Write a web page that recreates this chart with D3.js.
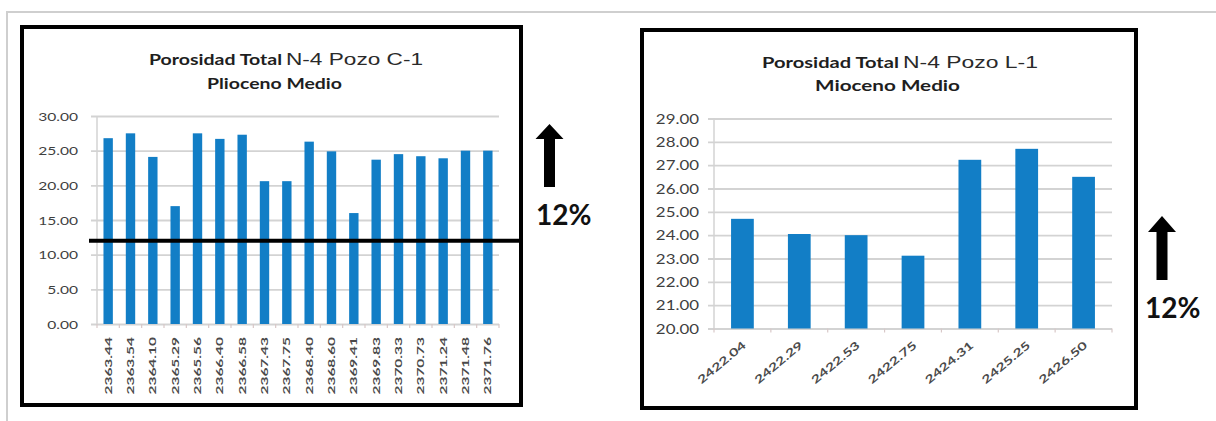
<!DOCTYPE html>
<html>
<head>
<meta charset="utf-8">
<script src="https://cdn.jsdelivr.net/npm/d3@7"></script>
<style>
  html, body { margin: 0; padding: 0; background: #fff; }
  svg { display: block; }
</style>
</head>
<body>
<svg id="chart" width="1216" height="421"></svg>
<script>
// Pozo C-1, Plioceno Medio: porosidad total (%) por profundidad
const depthsC1 = ["2363.44", "2363.54", "2364.10", "2365.29", "2365.56", "2366.40",
  "2366.58", "2367.43", "2367.75", "2368.40", "2368.60", "2369.41",
  "2369.83", "2370.33", "2370.73", "2371.24", "2371.48", "2371.76"];
const porosityC1 = [26.8, 27.5, 24.1, 17.0, 27.5, 26.7,
  27.3, 20.6, 20.6, 26.3, 24.9, 16.0,
  23.7, 24.5, 24.2, 23.9, 25.0, 25.0];
const ticksC1 = [0, 5, 10, 15, 20, 25, 30];

// Pozo L-1, Mioceno Medio
const depthsL1 = ["2422.04", "2422.29", "2422.53", "2422.75", "2424.31", "2425.25", "2426.50"];
const porosityL1 = [24.7, 24.05, 24.0, 23.12, 27.23, 27.7, 26.5];
const ticksL1 = [20, 21, 22, 23, 24, 25, 26, 27, 28, 29];

// corte de porosidad
const cutoff = 12;
const cutoffLabel = "12%";

const svg = d3.select("#chart");
const BAR = "#127ec6";
const GRID = "#d3d3d3";
const LABEL = "#3f3f3f";

// page border (top and left rule)
svg.append("path")
  .attr("d", "M7,421V12H1216")
  .attr("fill", "none")
  .attr("stroke", "#cfcfcf")
  .attr("stroke-width", 2);

function addText(g, x, y, str, o) {
  return g.append("text")
    .attr("x", x).attr("y", y)
    .attr("font-family", o.family)
    .attr("font-weight", o.weight)
    .attr("font-size", o.size)
    .attr("fill", o.fill || "#1e1e1e")
    .attr("textLength", o.length)
    .attr("lengthAdjust", "spacingAndGlyphs")
    .text(str);
}

function panel(o) {
  const g = svg.append("g");

  // outer black frame
  g.append("rect")
    .attr("x", o.frame[0]).attr("y", o.frame[1])
    .attr("width", o.frame[2]).attr("height", o.frame[3])
    .attr("fill", "#fff").attr("stroke", "#000").attr("stroke-width", 4);

  const x = d3.scaleBand().domain(o.cats).range([o.x0, o.x1])
    .paddingInner(o.pad).paddingOuter(o.pad / 2);
  const y = d3.scaleLinear().domain([o.ticks[0], o.ticks[o.ticks.length - 1]])
    .range([o.yb, o.yt]);

  // value axis with gridlines
  const yAxis = g.append("g")
    .attr("transform", `translate(${o.x0 - 6},0)`)
    .call(d3.axisLeft(y).tickValues(o.ticks).tickFormat(d3.format(".2f"))
      .tickSizeInner(-(o.x1 - o.x0 + 6)).tickSizeOuter(0));
  yAxis.select(".domain").remove();
  yAxis.selectAll(".tick line").attr("stroke", GRID).attr("stroke-width", 1.8);
  yAxis.selectAll(".tick text")
    .attr("x", 0).attr("dy", "0.35em")
    .attr("transform", `translate(${-o.yPad},0) scale(${o.yStretch},1)`)
    .attr("font-family", "Lato").attr("font-size", o.ySize)
    .attr("fill", LABEL).attr("text-anchor", "end");

  // vertical axis line
  g.append("line")
    .attr("x1", o.x0).attr("x2", o.x0).attr("y1", o.yt).attr("y2", o.yb)
    .attr("stroke", GRID).attr("stroke-width", 1.5);

  // category tick marks at band boundaries
  const step = x.step();
  g.append("g").selectAll("line")
    .data(d3.range(o.cats.length + 1))
    .join("line")
    .attr("x1", i => o.x0 + i * step).attr("x2", i => o.x0 + i * step)
    .attr("y1", o.yb).attr("y2", o.yb + 4)
    .attr("stroke", "#d8c8c8").attr("stroke-width", 1.2);

  // bars
  g.append("g").selectAll("rect")
    .data(o.values)
    .join("rect")
    .attr("x", (d, i) => x(o.cats[i]))
    .attr("y", d => y(d))
    .attr("width", x.bandwidth())
    .attr("height", d => y(o.ticks[0]) - y(d))
    .attr("fill", BAR);

  // category labels
  const xAxis = g.append("g")
    .attr("transform", `translate(0,${o.yb})`)
    .call(d3.axisBottom(x).tickSize(0));
  xAxis.select(".domain").remove();
  xAxis.selectAll(".tick text")
    .attr("x", 0).attr("y", 0).attr("dy", "0.35em")
    .attr("text-anchor", "end")
    .attr("transform", `translate(${o.xLabelDx},${o.xLabelDy}) rotate(${o.xAngle}) scale(${o.xStretch},1)`)
    .attr("font-family", "Lato").attr("font-weight", 700).attr("font-size", o.xSize)
    .attr("fill", "#4a4a4a");

  // titles
  addText(g, o.t1[0], o.t1[1], "Porosidad Total", { family: "Lato", weight: 700, size: 16, length: o.t1[2] });
  addText(g, o.t2[0], o.t2[1], o.t2[3], { family: "Liberation Sans", weight: 400, size: 17, length: o.t2[2], fill: "#2a2a2a" });
  addText(g, o.t3[0], o.t3[1], o.t3[3], { family: "Lato", weight: 700, size: 16, length: o.t3[2] });

  return { x, y, g };
}

function arrow(cx, tip, headBottom, bottom) {
  const hw = 14, sw = 5.5;
  svg.append("path")
    .attr("d", `M${cx},${tip}L${cx + hw},${headBottom}L${cx + sw},${headBottom}L${cx + sw},${bottom}` +
      `L${cx - sw},${bottom}L${cx - sw},${headBottom}L${cx - hw},${headBottom}Z`)
    .attr("fill", "#000");
}

function cutoffText(x, y) {
  svg.append("text")
    .attr("x", x).attr("y", y)
    .attr("font-family", "Lato").attr("font-weight", 700).attr("font-size", 28)
    .attr("fill", "#111")
    .text(cutoffLabel);
}

// Pozo C-1
const left = panel({
  frame: [22, 27, 499, 378],
  cats: depthsC1, values: porosityC1, ticks: ticksC1,
  x0: 97, x1: 499, yb: 324, yt: 116, pad: 0.58,
  yPad: 13, yStretch: 1.3, ySize: 12,
  xLabelDx: 0, xLabelDy: 13, xAngle: -90, xStretch: 1.55, xSize: 10,
  t1: [149, 65, 133], t2: [286, 65, 137, "N-4  Pozo C-1"], t3: [207, 89, 135, "Plioceno Medio"]
});

// línea de corte
left.g.append("line")
  .attr("x1", 89).attr("x2", 521)
  .attr("y1", left.y(cutoff)).attr("y2", left.y(cutoff))
  .attr("stroke", "#000").attr("stroke-width", 4);

arrow(549.5, 124, 139, 187);
cutoffText(536, 225);

// Pozo L-1
panel({
  frame: [642, 30, 494, 378],
  cats: depthsL1, values: porosityL1, ticks: ticksL1,
  x0: 714, x1: 1112, yb: 328.5, yt: 118.5, pad: 0.6,
  yPad: 9, yStretch: 1.3, ySize: 13,
  xLabelDx: 2, xLabelDy: 15, xAngle: -40, xStretch: 1.45, xSize: 11,
  t1: [762, 68, 137], t2: [903, 68, 135, "N-4  Pozo L-1"], t3: [815, 91, 145, "Mioceno Medio"]
});

arrow(1162, 216, 232, 280);
cutoffText(1145, 318);
</script>
</body>
</html>
